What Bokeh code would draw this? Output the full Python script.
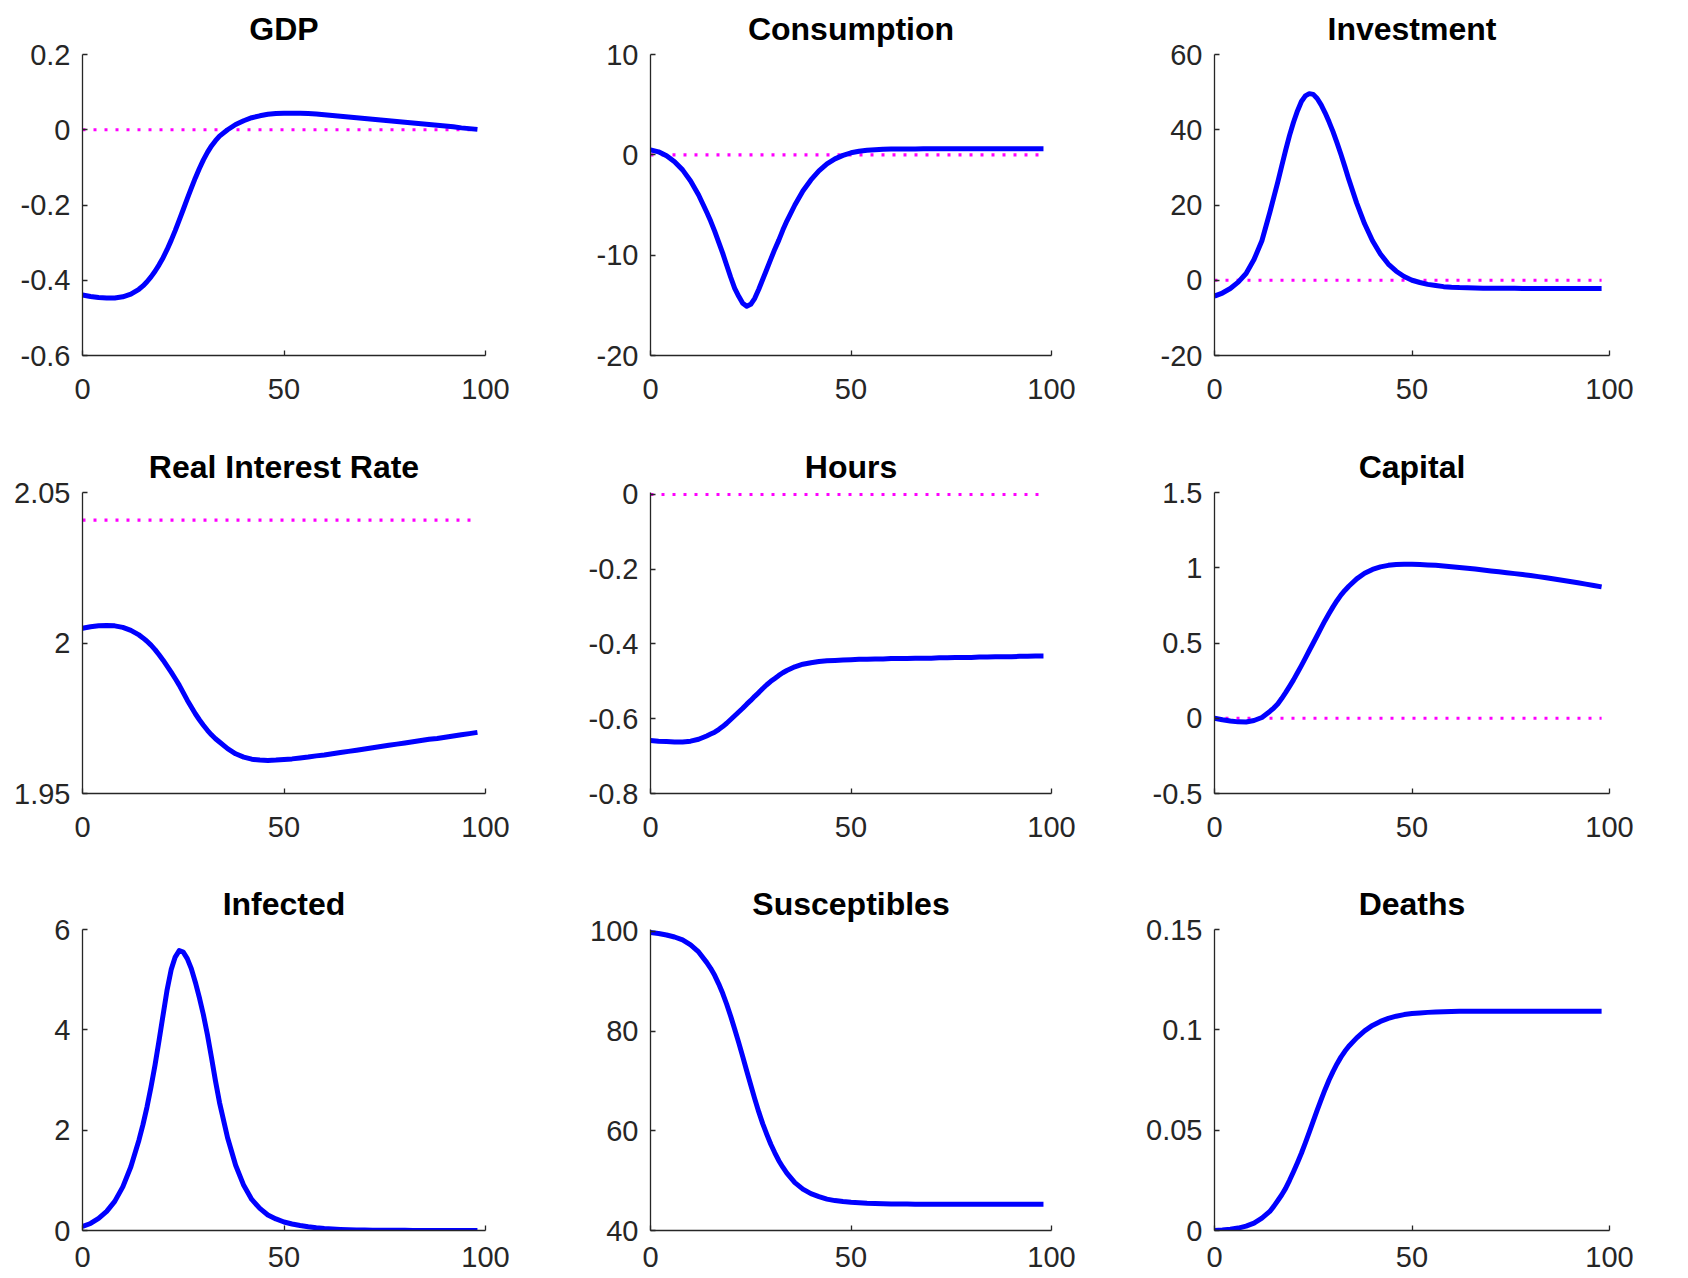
from bokeh.plotting import figure
from bokeh.layouts import column, row
from bokeh.models import FixedTicker, Range1d
from bokeh.embed import file_html
from bokeh.resources import INLINE

# ---------------- data ----------------
# periods: every 2 up to 12, every period from 14 to 34 (peak region), then every 2
periods = list(range(0, 14, 2)) + list(range(14, 35)) + list(range(36, 100, 2))

gdp = [-0.439, -0.443, -0.446, -0.447, -0.447, -0.444, -0.437,
       -0.424, -0.415, -0.404, -0.391, -0.376, -0.359, -0.340, -0.318, -0.294, -0.268, -0.240,
       -0.212, -0.183, -0.155, -0.128, -0.103, -0.080, -0.060, -0.043, -0.029, -0.017,
       0.000, 0.014, 0.024, 0.032, 0.037, 0.041, 0.043, 0.044, 0.044, 0.044,
       0.043, 0.042, 0.040, 0.038, 0.036, 0.034, 0.032, 0.030, 0.028, 0.026,
       0.024, 0.022, 0.020, 0.018, 0.016, 0.014, 0.012, 0.010, 0.008, 0.005,
       0.003, 0.001]

consumption = [0.5, 0.3, -0.1, -0.7, -1.5, -2.6, -4.0,
               -5.7, -6.6, -7.6, -8.7, -9.8, -11.0, -12.2, -13.3, -14.1, -14.8, -15.1,
               -14.9, -14.3, -13.4, -12.4, -11.4, -10.4, -9.4, -8.5, -7.5, -6.6,
               -5.0, -3.6, -2.5, -1.6, -0.9, -0.4, -0.05, 0.2, 0.35, 0.45,
               0.5, 0.55, 0.57, 0.58, 0.59, 0.59, 0.6, 0.6, 0.6, 0.6,
               0.6, 0.6, 0.6, 0.6, 0.6, 0.6, 0.6, 0.6, 0.6, 0.6,
               0.6, 0.6]

investment = [-4.2, -3.4, -2.2, -0.5, 1.8, 5.5, 10.5,
              18.0, 22.0, 26.0, 30.3, 34.5, 38.5, 42.0, 45.0, 47.5, 49.0, 49.6,
              49.4, 48.3, 46.6, 44.5, 42.1, 39.5, 36.6, 33.5, 30.2, 26.8,
              20.5, 15.0, 10.5, 7.0, 4.3, 2.4, 1.0, 0.0, -0.6, -1.1,
              -1.4, -1.7, -1.85, -1.95, -2.0, -2.05, -2.1, -2.1, -2.15, -2.15,
              -2.15, -2.2, -2.2, -2.2, -2.2, -2.2, -2.2, -2.2, -2.2, -2.2,
              -2.2, -2.2]

real_rate = [2.0049, 2.0054, 2.0057, 2.0058, 2.0057, 2.0052, 2.0042,
             2.0027, 2.0017, 2.0006, 1.9993, 1.9978, 1.9961, 1.9943, 1.9923, 1.9903, 1.9882, 1.9860,
             1.9835, 1.9810, 1.9787, 1.9765, 1.9745, 1.9727, 1.9710, 1.9695, 1.9682, 1.9671,
             1.9649, 1.9632, 1.9621, 1.9614, 1.9611, 1.9610, 1.9611, 1.9613, 1.9615, 1.9618,
             1.9621, 1.9625, 1.9628, 1.9632, 1.9636, 1.9640, 1.9644, 1.9648, 1.9652, 1.9656,
             1.9660, 1.9664, 1.9668, 1.9672, 1.9676, 1.9680, 1.9683, 1.9687, 1.9691, 1.9695,
             1.9699, 1.9703]

hours = [-0.658, -0.660, -0.661, -0.662, -0.662, -0.660, -0.655,
         -0.646, -0.641, -0.636, -0.629, -0.621, -0.612, -0.602, -0.592, -0.582, -0.572, -0.561,
         -0.551, -0.540, -0.530, -0.519, -0.509, -0.500, -0.492, -0.484, -0.477, -0.471,
         -0.461, -0.454, -0.450, -0.447, -0.445, -0.444, -0.443, -0.442, -0.441, -0.441,
         -0.440, -0.440, -0.439, -0.439, -0.439, -0.438, -0.438, -0.438, -0.437, -0.437,
         -0.436, -0.436, -0.436, -0.435, -0.435, -0.434, -0.434, -0.434, -0.433, -0.433,
         -0.432, -0.432]

capital = [0.000, -0.010, -0.018, -0.024, -0.025, -0.015, 0.005,
           0.045, 0.068, 0.095, 0.131, 0.170, 0.212, 0.255, 0.302, 0.350, 0.400, 0.450,
           0.500, 0.550, 0.600, 0.650, 0.696, 0.740, 0.781, 0.818, 0.849, 0.877,
           0.926, 0.963, 0.989, 1.006, 1.016, 1.022, 1.024, 1.024, 1.022, 1.019,
           1.016, 1.012, 1.007, 1.002, 0.997, 0.991, 0.985, 0.979, 0.973, 0.967,
           0.961, 0.955, 0.948, 0.941, 0.933, 0.925, 0.917, 0.909, 0.900, 0.891,
           0.882, 0.873]

infected = [0.08, 0.14, 0.24, 0.38, 0.58, 0.87, 1.27,
            1.80, 2.11, 2.46, 2.86, 3.30, 3.79, 4.30, 4.80, 5.20, 5.45, 5.58,
            5.55, 5.42, 5.22, 4.95, 4.64, 4.30, 3.90, 3.45, 2.98, 2.55,
            1.85, 1.30, 0.90, 0.62, 0.44, 0.31, 0.23, 0.17, 0.13, 0.10,
            0.075, 0.055, 0.04, 0.03, 0.022, 0.016, 0.012, 0.009, 0.007, 0.005,
            0.004, 0.003, 0.003, 0.002, 0.002, 0.002, 0.001, 0.001, 0.001, 0.001,
            0.001, 0.001]

susceptibles = [99.8, 99.6, 99.3, 98.9, 98.3, 97.3, 95.9,
                93.8, 92.6, 91.2, 89.5, 87.6, 85.4, 83.0, 80.4, 77.7, 74.9, 72.0,
                69.2, 66.4, 63.8, 61.4, 59.3, 57.3, 55.6, 54.0, 52.7, 51.5,
                49.6, 48.3, 47.4, 46.8, 46.3, 46.0, 45.8, 45.65, 45.55, 45.45,
                45.4, 45.35, 45.32, 45.3, 45.3, 45.28, 45.28, 45.27, 45.27, 45.26,
                45.26, 45.26, 45.25, 45.25, 45.25, 45.25, 45.25, 45.25, 45.25, 45.25,
                45.25, 45.25]

deaths = [0.0000, 0.0002, 0.0006, 0.0012, 0.0022, 0.0037, 0.0062,
          0.0095, 0.0120, 0.0148, 0.0177, 0.0210, 0.0250, 0.0293, 0.0338, 0.0385, 0.0437, 0.0490,
          0.0545, 0.0600, 0.0652, 0.0703, 0.0750, 0.0792, 0.0830, 0.0864, 0.0893, 0.0918,
          0.0960, 0.0995, 0.1022, 0.1042, 0.1057, 0.1068, 0.1076, 0.1081, 0.1084, 0.1087,
          0.1089, 0.1090, 0.1091, 0.1092, 0.1092, 0.1092, 0.1093, 0.1093, 0.1093, 0.1093,
          0.1093, 0.1093, 0.1093, 0.1093, 0.1093, 0.1093, 0.1093, 0.1093, 0.1093, 0.1093,
          0.1093, 0.1093]

titles = ["GDP", "Consumption", "Investment",
          "Real Interest Rate", "Hours", "Capital",
          "Infected", "Susceptibles", "Deaths"]

series = [gdp, consumption, investment,
          real_rate, hours, capital,
          infected, susceptibles, deaths]

# steady-state reference (dotted) lines; None = no line
steady_state = [0, 0, 0, 2.0408, 0, 0, None, None, None]

y_limits = [(-0.6, 0.2), (-20, 10), (-20, 60),
            (1.95, 2.05), (-0.8, 0), (-0.5, 1.5),
            (0, 6), (40, 100), (0, 0.15)]

y_ticks = [[-0.6, -0.4, -0.2, 0, 0.2], [-20, -10, 0, 10], [-20, 0, 20, 40, 60],
           [1.95, 2, 2.05], [-0.8, -0.6, -0.4, -0.2, 0], [-0.5, 0, 0.5, 1, 1.5],
           [0, 2, 4, 6], [40, 60, 80, 100], [0, 0.05, 0.1, 0.15]]

y_tick_labels = [["-0.6", "-0.4", "-0.2", "0", "0.2"], ["-20", "-10", "0", "10"],
                 ["-20", "0", "20", "40", "60"],
                 ["1.95", "2", "2.05"], ["-0.8", "-0.6", "-0.4", "-0.2", "0"],
                 ["-0.5", "0", "0.5", "1", "1.5"],
                 ["0", "2", "4", "6"], ["40", "60", "80", "100"],
                 ["0", "0.05", "0.1", "0.15"]]

x_ticks = [0, 50, 100]
x_tick_labels = ["0", "50", "100"]

# ---------------- layout / style ----------------
FONT = "Liberation Sans"
AX = "#262626"
FRAME_H = 301
col_frame_w = [403, 401, 395]
col_left = [82, 82, 82]
col_right = [83, 81, 60]
row_top = [54, 54, 54]
row_bottom = [83, 82, 47]
row_xstandoff = [23, 23, 16]
# small head-room (in px) above the top tick so a line drawn on it is not clipped
top_pad_px = [0, 0, 0, 0, 2, 0, 0, 2, 0]


def make_panel(i):
    r, c = divmod(i, 3)
    lo, hi = y_limits[i]
    hi_ext = hi + top_pad_px[i] * (hi - lo) / FRAME_H
    p = figure(output_backend="svg", toolbar_location=None,
               frame_width=col_frame_w[c], frame_height=FRAME_H,
               min_border_left=col_left[c], min_border_right=col_right[c],
               min_border_top=row_top[r], min_border_bottom=row_bottom[r],
               x_range=Range1d(0, 100), y_range=Range1d(lo, hi_ext),
               title=titles[i])
    p.outline_line_color = None
    p.grid.visible = False
    p.background_fill_color = "white"
    p.border_fill_color = "white"

    t = p.title
    t.text_font = FONT
    t.text_font_size = "32px"
    t.text_font_style = "bold"
    t.text_color = "black"
    t.align = "center"
    t.standoff = 16

    for ax in (p.xaxis[0], p.yaxis[0]):
        ax.axis_line_color = AX
        ax.axis_line_width = 1.3
        ax.major_tick_line_color = AX
        ax.major_tick_line_width = 1.3
        ax.major_tick_in = 5
        ax.major_tick_out = 0
        ax.minor_tick_line_color = None
        ax.major_label_text_font = FONT
        ax.major_label_text_font_size = "29px"
        ax.major_label_text_color = AX

    p.xaxis[0].ticker = FixedTicker(ticks=x_ticks)
    p.xaxis[0].major_label_overrides = dict(zip(x_ticks, x_tick_labels))
    p.xaxis[0].major_label_standoff = row_xstandoff[r]
    p.yaxis[0].ticker = FixedTicker(ticks=y_ticks[i])
    p.yaxis[0].major_label_overrides = dict(zip(y_ticks[i], y_tick_labels[i]))
    p.yaxis[0].major_label_standoff = 12

    if steady_state[i] is not None:
        p.line(periods, [steady_state[i]] * len(periods), line_color="#ff00ff",
               line_width=3.2, line_dash="3 8")
    p.line(periods, series[i], line_color="#0000ff", line_width=5,
           line_join="round")
    return p


panels = [make_panel(i) for i in range(9)]
layout = column(row(*panels[0:3]), row(*panels[3:6]), row(*panels[6:9]))

open("out.html", "w").write(file_html(layout, INLINE))
